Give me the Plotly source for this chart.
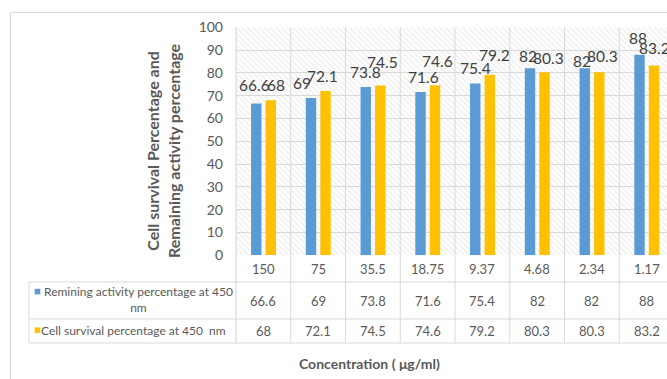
import plotly.graph_objects as go

# ---- data -------------------------------------------------------------
concentrations = ["150", "75", "35.5", "18.75", "9.37", "4.68", "2.34", "1.17"]
remaining_activity = [66.6, 69, 73.8, 71.6, 75.4, 82, 82, 88]
cell_survival = [68, 72.1, 74.5, 74.6, 79.2, 80.3, 80.3, 83.2]
y_ticks = [0, 10, 20, 30, 40, 50, 60, 70, 80, 90, 100]

series_names = ["Remining activity percentage at 450<br>nm",
                "Cell survival percentage at 450  nm"]

# ---- styling ----------------------------------------------------------
W, H = 667, 379
FONT = "Lato"
BLUE, GOLD = "#5B9BD5", "#FFC000"
GRID = "#d9d9d9"
TXT = "#595959"
LBL = "#404040"

PLOT_L, PLOT_T, PLOT_B = 236, 27.3, 255.3   # plot area in pixels
CAT_PX = 54.75                               # width of one category column
X_MAX = -0.5 + (W - PLOT_L) / CAT_PX

BAR_W = 0.19
OFF_BLUE, OFF_GOLD = -0.225, 0.04

# small pixel nudges that keep neighbouring value labels apart (dx, dy)
nudge_blue = [(-2, 3), (-9, 0), (0, 0), (3, 0), (0, 0), (-2.5, -3), (-3, -7.5), (-2, 1)]
nudge_gold = [(5, 0), (-3, 0), (2, 8.4), (2, 9), (5, 4.4), (3.5, -0.6), (3, 1), (0, 2.7)]

def py(px):
    """pixel row -> paper y"""
    return 1 - px / H

def pxx(px):
    """pixel column -> paper x"""
    return px / W

fig = go.Figure()

# hatched plot-area background
fig.add_trace(go.Bar(
    x=[concentrations[0]], y=[y_ticks[-1]], width=[len(concentrations)], offset=-0.5,
    marker=dict(color="rgba(0,0,0,0)", line=dict(width=0),
                pattern=dict(shape="\\", fgcolor="#d9d9d9", size=4, solidity=0.3,
                             fillmode="overlay")),
    hoverinfo="skip", showlegend=False,
))

fig.add_trace(go.Bar(
    x=concentrations, y=remaining_activity, width=BAR_W, offset=OFF_BLUE,
    marker=dict(color=BLUE, line=dict(width=0)), showlegend=False,
    name="Remining activity percentage at 450 nm",
))
fig.add_trace(go.Bar(
    x=concentrations, y=cell_survival, width=BAR_W, offset=OFF_GOLD,
    marker=dict(color=GOLD, line=dict(width=0)), showlegend=False,
    name="Cell survival percentage at 450 nm",
))

annotations = []
shapes = []

def note(**kw):
    kw.setdefault("showarrow", False)
    kw.setdefault("xanchor", "center")
    kw.setdefault("yanchor", "middle")
    annotations.append(kw)

# value labels above bars
for vals, off, nudges in [(remaining_activity, OFF_BLUE, nudge_blue),
                          (cell_survival, OFF_GOLD, nudge_gold)]:
    for i, (v, (dx, dy)) in enumerate(zip(vals, nudges)):
        note(x=i + off + BAR_W / 2, y=v, xref="x", yref="y", text=f"{v:g}",
             xshift=dx, yshift=15.3 + dy,
             font=dict(family=FONT, size=15.5, color=LBL))

# ---- data table under the plot ---------------------------------------
ROW1, ROW2, ROW3, TBL_B = 255.3, 282, 319, 343
row_mid = [(ROW1 + ROW2) / 2, (ROW2 + ROW3) / 2, (ROW3 + TBL_B) / 2]
rows = [concentrations,
        [f"{v:g}" for v in remaining_activity],
        [f"{v:g}" for v in cell_survival]]
for r, vals in enumerate(rows):
    for i, t in enumerate(vals):
        note(x=i, y=py(row_mid[r]), xref="x", yref="paper", text=t,
             font=dict(family=FONT, size=13, color=TXT))

# vertical column lines (plot area and table)
for i in range(len(concentrations) + 1):
    shapes.append(dict(type="line", xref="x", yref="paper", x0=i - 0.5, x1=i - 0.5,
                       y0=py(PLOT_T), y1=py(TBL_B), line=dict(color=GRID, width=1),
                       layer="above"))
# horizontal table lines
for yy in (ROW2, ROW3, TBL_B):
    shapes.append(dict(type="line", xref="paper", yref="paper", x0=pxx(29), x1=1.02,
                       y0=py(yy), y1=py(yy), line=dict(color=GRID, width=1)))
shapes.append(dict(type="line", xref="paper", yref="paper", x0=pxx(29), x1=pxx(29),
                   y0=py(ROW2), y1=py(TBL_B), line=dict(color=GRID, width=1)))
shapes.append(dict(type="line", xref="paper", yref="paper", x0=pxx(PLOT_L), x1=pxx(PLOT_L),
                   y0=py(PLOT_T), y1=py(TBL_B), line=dict(color=GRID, width=1)))

# series headers with colour keys
for name, color, ymid, key_y, cx in [(series_names[0], BLUE, 299.2, 291.6, 138.5),
                                     (series_names[1], GOLD, 330.2, 330.2, 133.5)]:
    note(x=pxx(cx), y=py(ymid), xref="paper", yref="paper", text=name, align="center",
         font=dict(family=FONT, size=12, color=TXT))
    shapes.append(dict(type="rect", xref="paper", yref="paper",
                       x0=pxx(34.7), x1=pxx(40.3), y0=py(key_y - 2.8), y1=py(key_y + 2.8),
                       fillcolor=color, line=dict(width=0)))

# outer chart frame
shapes.append(dict(type="rect", xref="paper", yref="paper",
                   x0=pxx(10.5), x1=1.05, y0=py(12.5), y1=-0.05,
                   line=dict(color=GRID, width=1), fillcolor="rgba(0,0,0,0)"))

# axis titles
note(x=pxx(369), y=py(363), xref="paper", yref="paper",
     text="<b>Concentration ( μg/ml)</b>",
     font=dict(family=FONT, size=14, color=TXT))
note(x=pxx(162.5), y=py(150.5), xref="paper", yref="paper",
     text="<b>Cell survival Percentage and<br>Remaining activity percentage</b>",
     textangle=-90, align="center",
     font=dict(family=FONT, size=16, color=TXT))

fig.update_layout(
    width=W, height=H,
    margin=dict(l=0, r=0, t=0, b=0, pad=0, autoexpand=False),
    paper_bgcolor="white", plot_bgcolor="white",
    barmode="overlay",
    showlegend=False,
    annotations=annotations,
    shapes=shapes,
    xaxis=dict(domain=[pxx(PLOT_L), 1], type="category", range=[-0.5, X_MAX],
               showgrid=False, showticklabels=False, ticks="", zeroline=False,
               showline=False, fixedrange=True, automargin=False),
    yaxis=dict(domain=[py(PLOT_B), py(PLOT_T)], range=[0, 100], tickvals=y_ticks,
               showgrid=True, gridcolor=GRID, gridwidth=1, zeroline=False,
               ticks="", ticklabelstandoff=12, automargin=False,
               tickfont=dict(family=FONT, size=14, color=TXT), fixedrange=True),
)

fig.write_html("out.html")
